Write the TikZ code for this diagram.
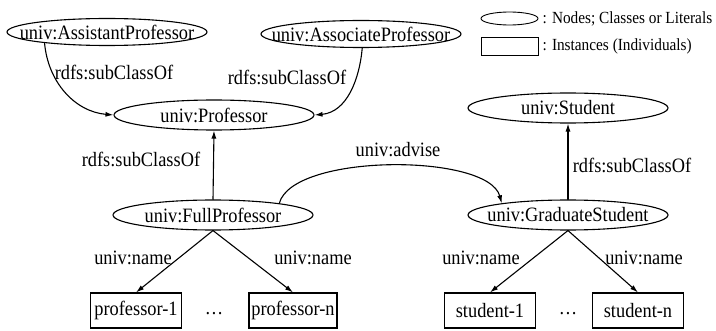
\documentclass[tikz,border=0pt]{standalone}
\usepackage{fontspec}
\setmainfont{Liberation Serif}[FakeStretch=0.9]
\usetikzlibrary{arrows.meta,positioning,shapes.geometric}

\begin{document}
\begin{tikzpicture}[x=1pt,y=1pt,>={Latex[length=8pt,width=5pt]},line cap=round,
  cls/.style={draw,ellipse,line width=1.1pt,inner xsep=-20pt,inner ysep=0pt,
    minimum width=200pt,minimum height=30pt,font=\fontsize{20.4}{22}\selectfont},
  inst/.style={draw,rectangle,line width=1.1pt,minimum width=91pt,minimum height=35pt,
    inner sep=0pt,font=\fontsize{20.4}{22}\selectfont},
  lbl/.style={inner sep=1pt,font=\fontsize{20.4}{22}\selectfont},
  link/.style={->,line width=1.1pt}]
\useasboundingbox (0,0) rectangle (716,330);
% classes
\node[cls,minimum height=27pt] (asst) at (107,298) {univ:AssistantProfessor};
\node[cls,minimum height=27pt] (assoc) at (361,296) {univ:AssociateProfessor};
\node[cls] (prof) at (214,215) {univ:Professor};
\node[cls] (stud) at (568,222) {univ:Student};
\node[cls] (full) at (213,115) {univ:FullProfessor};
\node[cls] (grad) at (568,115) {univ:GraduateStudent};
% instances
\node[inst] (prof1) at (136,19.5) {professor-1};
\node[inst,minimum width=88pt] (profn) at (293,19.5) {professor-n};
\node[inst] (stud1) at (490,19.5) {student-1};
\node[inst] (studn) at (638,19.5) {student-n};
\node[lbl] (pdots) at (214,16) {\dots};
\node[lbl] (sdots) at (568,16) {\dots};
% legend
\node[draw,ellipse,line width=.9pt,minimum width=57pt,minimum height=13pt,inner sep=0pt] (lgcls) at (509.5,311.5) {};
\node[draw,line width=.9pt,minimum width=57pt,minimum height=18pt,inner sep=0pt] (lginst) at (509.5,284) {};
\node[right=3pt of lgcls,inner sep=1pt,font=\fontsize{17}{19}\selectfont] (lgclstxt) {: Nodes; Classes or Literals};
\node[right=3pt of lginst,inner sep=1pt,font=\fontsize{17}{19}\selectfont] (lginsttxt) {: Instances (Individuals)};
% subclass links
\draw[link] (asst.190) to[out=-85,in=175] (prof.west);
\draw[link] (assoc.-85) to[out=-95,in=5] (prof.east);
\draw[link] (full.north) -- (prof.south);
\draw[link] (grad.north) -- (stud.south);
\node[lbl] (sub1) at (114,258) {rdfs:subClassOf};
\node[lbl] (sub2) at (287,253) {rdfs:subClassOf};
\node[lbl] (sub3) at (141,171) {rdfs:subClassOf};
\node[lbl] (sub4) at (632,165) {rdfs:subClassOf};
% advise
\draw[link] (full.10) to[out=75,in=105,looseness=0.6] (grad.170);
\node[lbl] (adv) at (398,180) {univ:advise};
% names
\draw[link] (full.south) -- (prof1.north);
\draw[link] (full.south) -- (profn.north);
\draw[link] (grad.south) -- (stud1.north);
\draw[link] (grad.south) -- (studn.north);
\node[lbl] (nm1) at (133,72) {univ:name};
\node[lbl] (nm2) at (313,72) {univ:name};
\node[lbl] (nm3) at (481,72) {univ:name};
\node[lbl] (nm4) at (644,72) {univ:name};
\end{tikzpicture}
\end{document}
